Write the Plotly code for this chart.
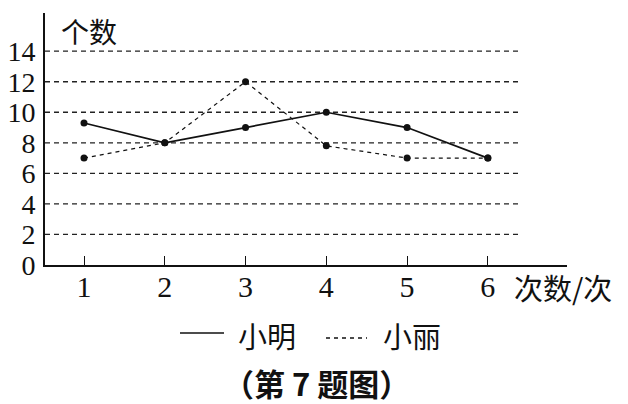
import plotly.graph_objects as go

# 次数
times = [1, 2, 3, 4, 5, 6]
# 小明 / 小丽 的个数
xiaoming = [9.3, 8, 9, 10, 9, 7]
xiaoli = [7, 8, 12, 7.8, 7, 7]
y_ticks = [0, 2, 4, 6, 8, 10, 12, 14]

W, H = 628, 404
OFF = 8  # page body margin
L, R, T, B = 45 - OFF, 628 - 567 + OFF, 13 - OFF, 404 - 265 + OFF
pw, ph = W - L - R, H - T - B


def px(x):
    return (x - OFF - L) / pw


def py(y):
    return (H - B - (y - OFF)) / ph


serif = "Liberation Serif"
cjk = "Noto Sans CJK SC"

fig = go.Figure()
fig.add_trace(go.Scatter(x=times, y=xiaoming, mode="lines+markers",
                         line=dict(color="#111", width=1.7),
                         marker=dict(color="#111", size=7), showlegend=False))
fig.add_trace(go.Scatter(x=times, y=xiaoli, mode="lines+markers",
                         line=dict(color="#111", width=1.2, dash="4px,4px"),
                         marker=dict(color="#111", size=7), showlegend=False))

shapes = []
# dashed gridlines
for v in y_ticks[1:]:
    shapes.append(dict(type="line", xref="paper", yref="y", x0=0, x1=px(522),
                       y0=v, y1=v, line=dict(color="#222", width=1.3, dash="5px,4px"),
                       layer="below"))
# legend samples
shapes.append(dict(type="line", xref="paper", yref="paper", x0=px(180), x1=px(224),
                   y0=py(333), y1=py(333), line=dict(color="#111", width=1.6)))
shapes.append(dict(type="line", xref="paper", yref="paper", x0=px(326), x1=px(367),
                   y0=py(338), y1=py(338), line=dict(color="#111", width=1.3, dash="4px,4px")))

annotations = [
    dict(text="个数", xref="paper", yref="paper", x=px(59), y=py(9), xanchor="left",
         yanchor="top", showarrow=False, font=dict(family=cjk, size=28, color="#111")),
    dict(text="次数/次", xref="paper", yref="paper", x=px(512), y=py(287), xanchor="left",
         yanchor="middle", showarrow=False, font=dict(family=cjk, size=29, color="#111")),
    dict(text="小明", xref="paper", yref="paper", x=px(236), y=py(335), xanchor="left",
         yanchor="middle", showarrow=False, font=dict(family=cjk, size=29, color="#111")),
    dict(text="小丽", xref="paper", yref="paper", x=px(381), y=py(335), xanchor="left",
         yanchor="middle", showarrow=False, font=dict(family=cjk, size=29, color="#111")),
    dict(text="<b>（第 7 题图）</b>", xref="paper", yref="paper", x=px(316), y=py(382),
         xanchor="center", yanchor="middle", showarrow=False,
         font=dict(family=cjk, size=31, color="#111")),
]

fig.update_layout(
    width=W, height=H,
    margin=dict(l=L, r=R, t=T, b=B),
    paper_bgcolor="white", plot_bgcolor="white",
    shapes=shapes, annotations=annotations,
    xaxis=dict(range=[0.517, 6.98], tickvals=times, ticks="inside", ticklen=9,
               tickwidth=1.3, tickcolor="#111", showline=True, linecolor="#111",
               linewidth=1.7, showgrid=False, zeroline=False, automargin=False,
               ticklabelstandoff=-6,
               tickfont=dict(family=serif, size=30, color="#111")),
    yaxis=dict(range=[0, 16.5], tickvals=y_ticks, showline=True, linecolor="#111",
               linewidth=1.7, showgrid=False, zeroline=False, ticks="",
               ticklabelstandoff=2, automargin=False,
               tickfont=dict(family=serif, size=28, color="#111")),
)

fig.write_html("out.html")
